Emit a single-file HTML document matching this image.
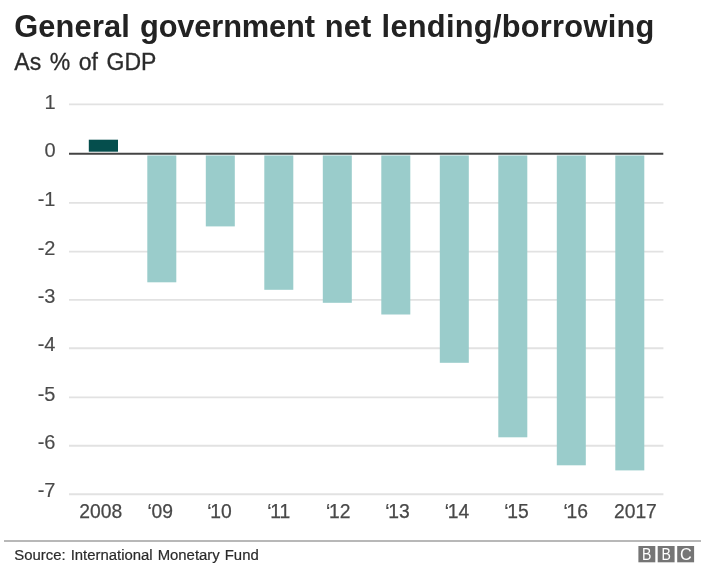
<!DOCTYPE html>
<html><head><meta charset="utf-8">
<style>
html,body{margin:0;padding:0;background:#fff;}
body{width:708px;height:577px;position:relative;overflow:hidden;font-family:"Liberation Sans",Arial,sans-serif;}
#title{position:absolute;left:0;top:8.7px;font-size:30.8px;font-weight:bold;color:#222;white-space:nowrap;line-height:36px;word-spacing:2.8px;}
#sub{position:absolute;left:14.3px;top:48.6px;font-size:23px;color:#2b2b2b;-webkit-text-stroke:0.3px #2b2b2b;white-space:nowrap;line-height:26px;word-spacing:2.2px;}
#title span{position:absolute;top:0;}
svg{position:absolute;left:0;top:0;}
#title,#sub,#src,svg{filter:blur(0.55px);}
#src{position:absolute;left:14.3px;top:546.2px;font-size:14.9px;color:#2b2b2b;-webkit-text-stroke:0.2px #2b2b2b;white-space:nowrap;line-height:18px;word-spacing:0.9px;}
</style></head><body>
<div id="title"><span style="left:14.2px;letter-spacing:0.17px">General</span> <span style="left:140px;letter-spacing:-0.14px">government</span> <span style="left:324.7px;letter-spacing:0.17px">net</span> <span style="left:381.6px;letter-spacing:0.26px">lending/borrowing</span></div>
<div id="sub">As % of GDP</div>
<svg width="708" height="577" viewBox="0 0 708 577" font-family="Liberation Sans, Arial, sans-serif">
<g stroke="#e2e2e2" stroke-width="1.85">
<line x1="69" x2="663.4" y1="104.4" y2="104.4"/>
<line x1="69" x2="663.4" y1="202.9" y2="202.9"/>
<line x1="69" x2="663.4" y1="251.6" y2="251.6"/>
<line x1="69" x2="663.4" y1="299.8" y2="299.8"/>
<line x1="69" x2="663.4" y1="348.2" y2="348.2"/>
<line x1="69" x2="663.4" y1="397.4" y2="397.4"/>
<line x1="69" x2="663.4" y1="445.7" y2="445.7"/>
<line x1="69" x2="663.4" y1="494.2" y2="494.2"/>
</g>
<g fill="#9acccb">
<rect x="147.3" y="155.5" width="29" height="126.8"/>
<rect x="205.8" y="155.5" width="29" height="70.9"/>
<rect x="264.3" y="155.5" width="29" height="134.3"/>
<rect x="322.8" y="155.5" width="29" height="147.3"/>
<rect x="381.3" y="155.5" width="29" height="159.0"/>
<rect x="439.8" y="155.5" width="29" height="207.3"/>
<rect x="498.3" y="155.5" width="29" height="281.8"/>
<rect x="556.8" y="155.5" width="29" height="309.8"/>
<rect x="615.3" y="155.5" width="29" height="314.9"/>
</g>
<rect x="88.8" y="139.7" width="29.2" height="12" fill="#054e4d"/>
<line x1="69" x2="663.3" y1="153.75" y2="153.75" stroke="#444" stroke-width="2.2"/>
<g font-size="20" fill="#4a4a4a" stroke="#4a4a4a" stroke-width="0.15" text-anchor="end">
<text x="55.5" y="109.0">1</text>
<text x="55.5" y="156.8">0</text>
<text x="55.5" y="206.1">-1</text>
<text x="55.5" y="254.8">-2</text>
<text x="55.5" y="302.9">-3</text>
<text x="55.5" y="351.3">-4</text>
<text x="55.5" y="400.5">-5</text>
<text x="55.5" y="448.8">-6</text>
<text x="55.5" y="497.3">-7</text>
</g>
<g font-size="19.3" fill="#484848" stroke="#484848" stroke-width="0.25" text-anchor="middle">
<text x="100.8" y="518.4">2008</text>
<text x="160.0" y="518.4"><tspan dx="0.2">‘</tspan><tspan dx="-0.2">09</tspan></text>
<text x="218.1" y="518.4"><tspan dx="1.3">‘</tspan><tspan dx="-1.3">10</tspan></text>
<text x="277.5" y="518.4"><tspan dx="1.3">‘</tspan><tspan dx="-1.3">11</tspan></text>
<text x="336.9" y="518.4"><tspan dx="1.3">‘</tspan><tspan dx="-1.3">12</tspan></text>
<text x="396.3" y="518.4"><tspan dx="1.3">‘</tspan><tspan dx="-1.3">13</tspan></text>
<text x="455.7" y="518.4"><tspan dx="1.3">‘</tspan><tspan dx="-1.3">14</tspan></text>
<text x="515.1" y="518.4"><tspan dx="1.3">‘</tspan><tspan dx="-1.3">15</tspan></text>
<text x="574.5" y="518.4"><tspan dx="1.3">‘</tspan><tspan dx="-1.3">16</tspan></text>
<text x="635.4" y="518.4">2017</text>
</g>
<line x1="4" x2="701" y1="540.9" y2="540.9" stroke="#b8b8b8" stroke-width="2"/>
<g>
<rect x="638.4" y="546" width="16.9" height="16.3" fill="#757575"/>
<rect x="657.7" y="546" width="16.9" height="16.3" fill="#757575"/>
<rect x="677.2" y="546" width="16.9" height="16.3" fill="#757575"/>
<g font-size="16.8" fill="#fff" text-anchor="middle">
<text transform="translate(646.7 560.2) scale(0.84 1)">B</text><text transform="translate(666.1 560.2) scale(0.84 1)">B</text><text transform="translate(685.8 560.2) scale(0.97 1)">C</text>
</g></g>
</svg>
<div id="src">Source: International Monetary Fund</div>
</body></html>
